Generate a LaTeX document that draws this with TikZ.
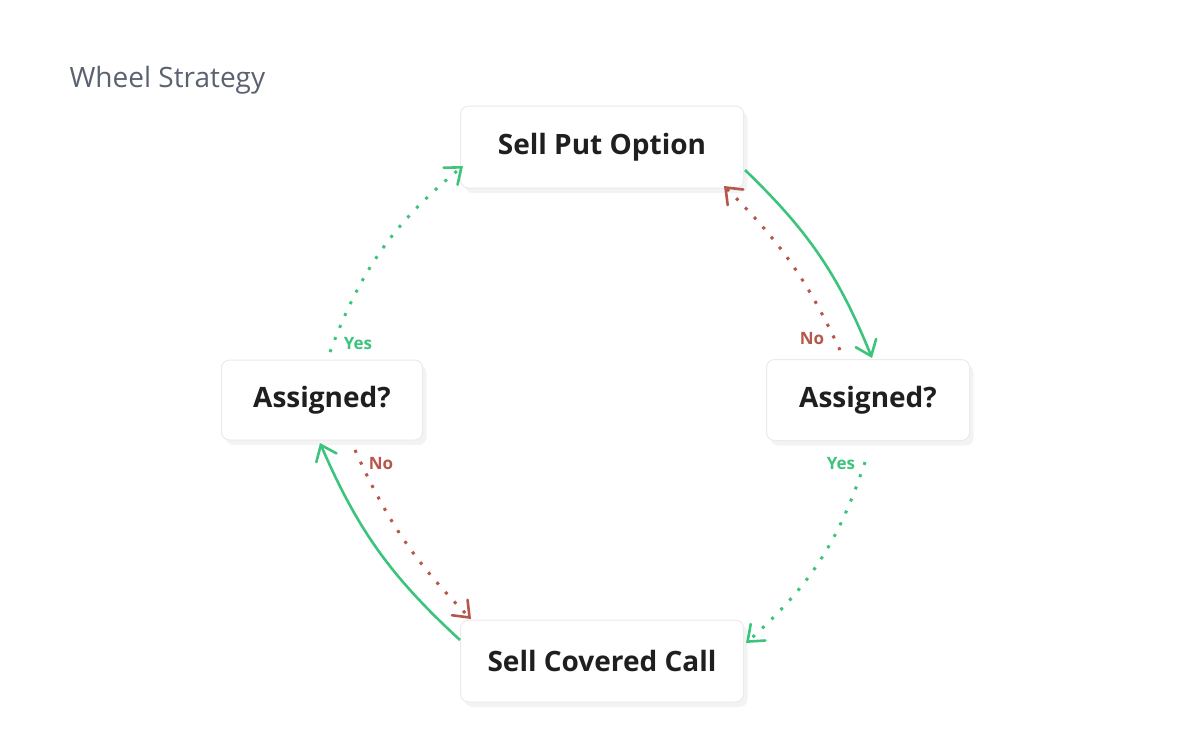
\documentclass[tikz,border=0pt]{standalone}
\usepackage{fontspec}
\setmainfont{Open Sans}
\usetikzlibrary{arrows.meta,shadows}
\definecolor{gr}{HTML}{3CC47C}
\definecolor{rd}{HTML}{B5574A}
\definecolor{tt}{HTML}{5A6270}
\begin{document}
\begin{tikzpicture}[x=1pt,y=-1pt,
 box/.style={draw=black!8,fill=white,rounded corners=8pt,line width=1pt,
   drop shadow={shadow xshift=4pt,shadow yshift=-5pt,fill=black!8,opacity=0.6},
   font=\fontsize{28}{32}\selectfont\bfseries,text=black!88},
 tip/.style={-{Straight Barb[length=14pt,width=22pt,line width=2.6pt,line cap=round]}},
 gsolid/.style={draw=gr,line width=2.6pt,tip},
 gdot/.style={draw=gr,line width=3pt,dash pattern=on 3pt off 10pt,tip},
 rdot/.style={draw=rd,line width=3pt,dash pattern=on 3pt off 10pt,tip},
 lab/.style={font=\fontsize{17}{20}\selectfont\bfseries}]
\useasboundingbox (0,0) rectangle (1200,752);
\node[anchor=west,text=tt,font=\fontsize{28}{32}\selectfont] (title) at (66,80) {Wheel Strategy};
\node[box,minimum width=283pt,minimum height=82pt] (top) at (602,147) {Sell Put Option};
\node[box,minimum width=201pt,minimum height=80pt] (left) at (322,400) {Assigned?};
\node[box,minimum width=203pt,minimum height=81pt] (right) at (868,400) {Assigned?};
\node[box,minimum width=283pt,minimum height=82pt] (bot) at (602,661) {Sell Covered Call};
\coordinate (a1) at (745,170);
\coordinate (a2) at (872,358);
\draw[gsolid] (a1) to[bend left=12] (a2);
\coordinate (b1) at (840,350);
\coordinate (b2) at (724,186);
\draw[rdot] (b1) to[bend right=10] (b2);
\coordinate (c1) at (865,462);
\coordinate (c2) at (746,643);
\draw[gdot] (c1) to[bend left=15] (c2);
\coordinate (d1) at (355,450);
\coordinate (d2) at (471,619);
\draw[rdot] (d1) to[bend right=10] (d2);
\coordinate (e1) at (460,640);
\coordinate (e2) at (320,443);
\draw[gsolid] (e1) to[bend left=12] (e2);
\coordinate (f1) at (330,352);
\coordinate (f2) at (463,166);
\draw[gdot] (f1) to[bend left=15] (f2);
\node[lab,text=gr] (y1) at (358,344) {Yes};
\node[lab,text=rd] (n1) at (812,339) {No};
\node[lab,text=gr] (y2) at (841,464) {Yes};
\node[lab,text=rd] (n2) at (381,464) {No};
\end{tikzpicture}
\end{document}
